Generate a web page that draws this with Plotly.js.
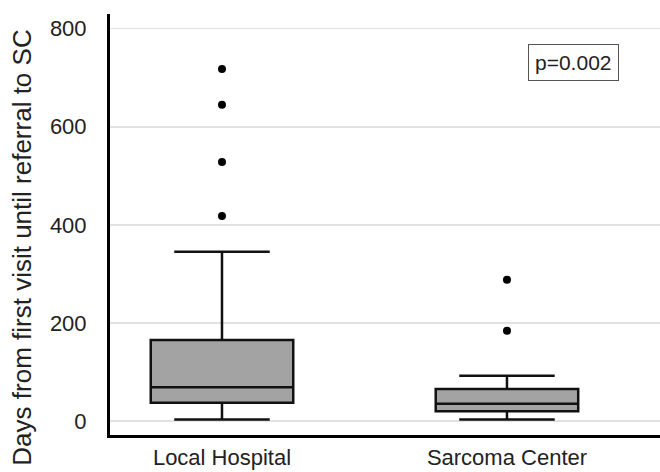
<!DOCTYPE html>
<html>
<head>
<meta charset="utf-8">
<script src="https://cdn.plot.ly/plotly-3.0.1.min.js"></script>
<style>html,body{margin:0;padding:0;background:#fff;}#chart{width:660px;height:472px;}</style>
</head>
<body>
<div id="chart"></div>
<script>
// Data
const categories = ["Local Hospital", "Sarcoma Center"];
const q1Values = [37, 20];
const medianValues = [69, 35];
const q3Values = [165, 65];
const lowerFences = [3, 3];
const upperFences = [345, 92];
const outlierCategories = ["Local Hospital", "Local Hospital", "Local Hospital", "Local Hospital", "Sarcoma Center", "Sarcoma Center"];
const outlierValues = [718, 645, 528, 418, 288, 184];
const yTickValues = [0, 200, 400, 600, 800];
const yTickLabels = ["0", "200", "400", "600", "800"];
const yTitle = "Days from first visit until referral to SC";
const pLabel = "p=0.002";

const FONT = "Liberation Sans, Arial, Helvetica, sans-serif";

const traces = [
  {
    type: "box",
    x: categories,
    q1: q1Values,
    median: medianValues,
    q3: q3Values,
    lowerfence: lowerFences,
    upperfence: upperFences,
    boxpoints: false,
    width: 0.5,
    whiskerwidth: 0.67,
    fillcolor: "#a3a3a3",
    line: {color: "#111", width: 2.5},
    hoverinfo: "skip",
    showlegend: false
  },
  {
    type: "scatter",
    mode: "markers",
    x: outlierCategories,
    y: outlierValues,
    marker: {color: "#000", size: 8},
    hoverinfo: "skip",
    showlegend: false
  }
];

const layout = {
  width: 660,
  height: 472,
  margin: {l: 110, r: 0, t: 14, b: 37},
  paper_bgcolor: "#fff",
  plot_bgcolor: "#fff",
  font: {family: FONT, color: "#222"},
  showlegend: false,
  xaxis: {
    type: "category",
    range: [-0.393, 1.537],
    showline: true,
    linecolor: "#000",
    linewidth: 3,
    showgrid: false,
    zeroline: false,
    ticks: "",
    tickfont: {family: FONT, size: 22, color: "#222"},
    ticklabelstandoff: 1
  },
  yaxis: {
    range: [-28.6, 830],
    tickmode: "array",
    tickvals: yTickValues,
    ticktext: yTickLabels,
    showline: true,
    linecolor: "#000",
    linewidth: 3,
    showgrid: true,
    gridcolor: "#e2e2e2",
    gridwidth: 1.5,
    zeroline: false,
    ticks: "",
    tickfont: {family: FONT, size: 22, color: "#222"},
    ticklabelstandoff: 16
  },
  annotations: [
    {
      text: yTitle,
      xref: "paper", yref: "paper",
      x: -0.16, y: 0.445,
      xanchor: "center", yanchor: "middle",
      textangle: -90,
      showarrow: false,
      font: {family: FONT, size: 26, color: "#222"}
    },
    {
      text: pLabel,
      xref: "paper", yref: "paper",
      x: 0.843, y: 0.885,
      xanchor: "center", yanchor: "middle",
      showarrow: false,
      bordercolor: "#555",
      borderwidth: 1,
      borderpad: 6,
      bgcolor: "#fff",
      font: {family: FONT, size: 21, color: "#222"}
    }
  ]
};

Plotly.newPlot("chart", traces, layout, {displayModeBar: false, staticPlot: true});
</script>
</body>
</html>
